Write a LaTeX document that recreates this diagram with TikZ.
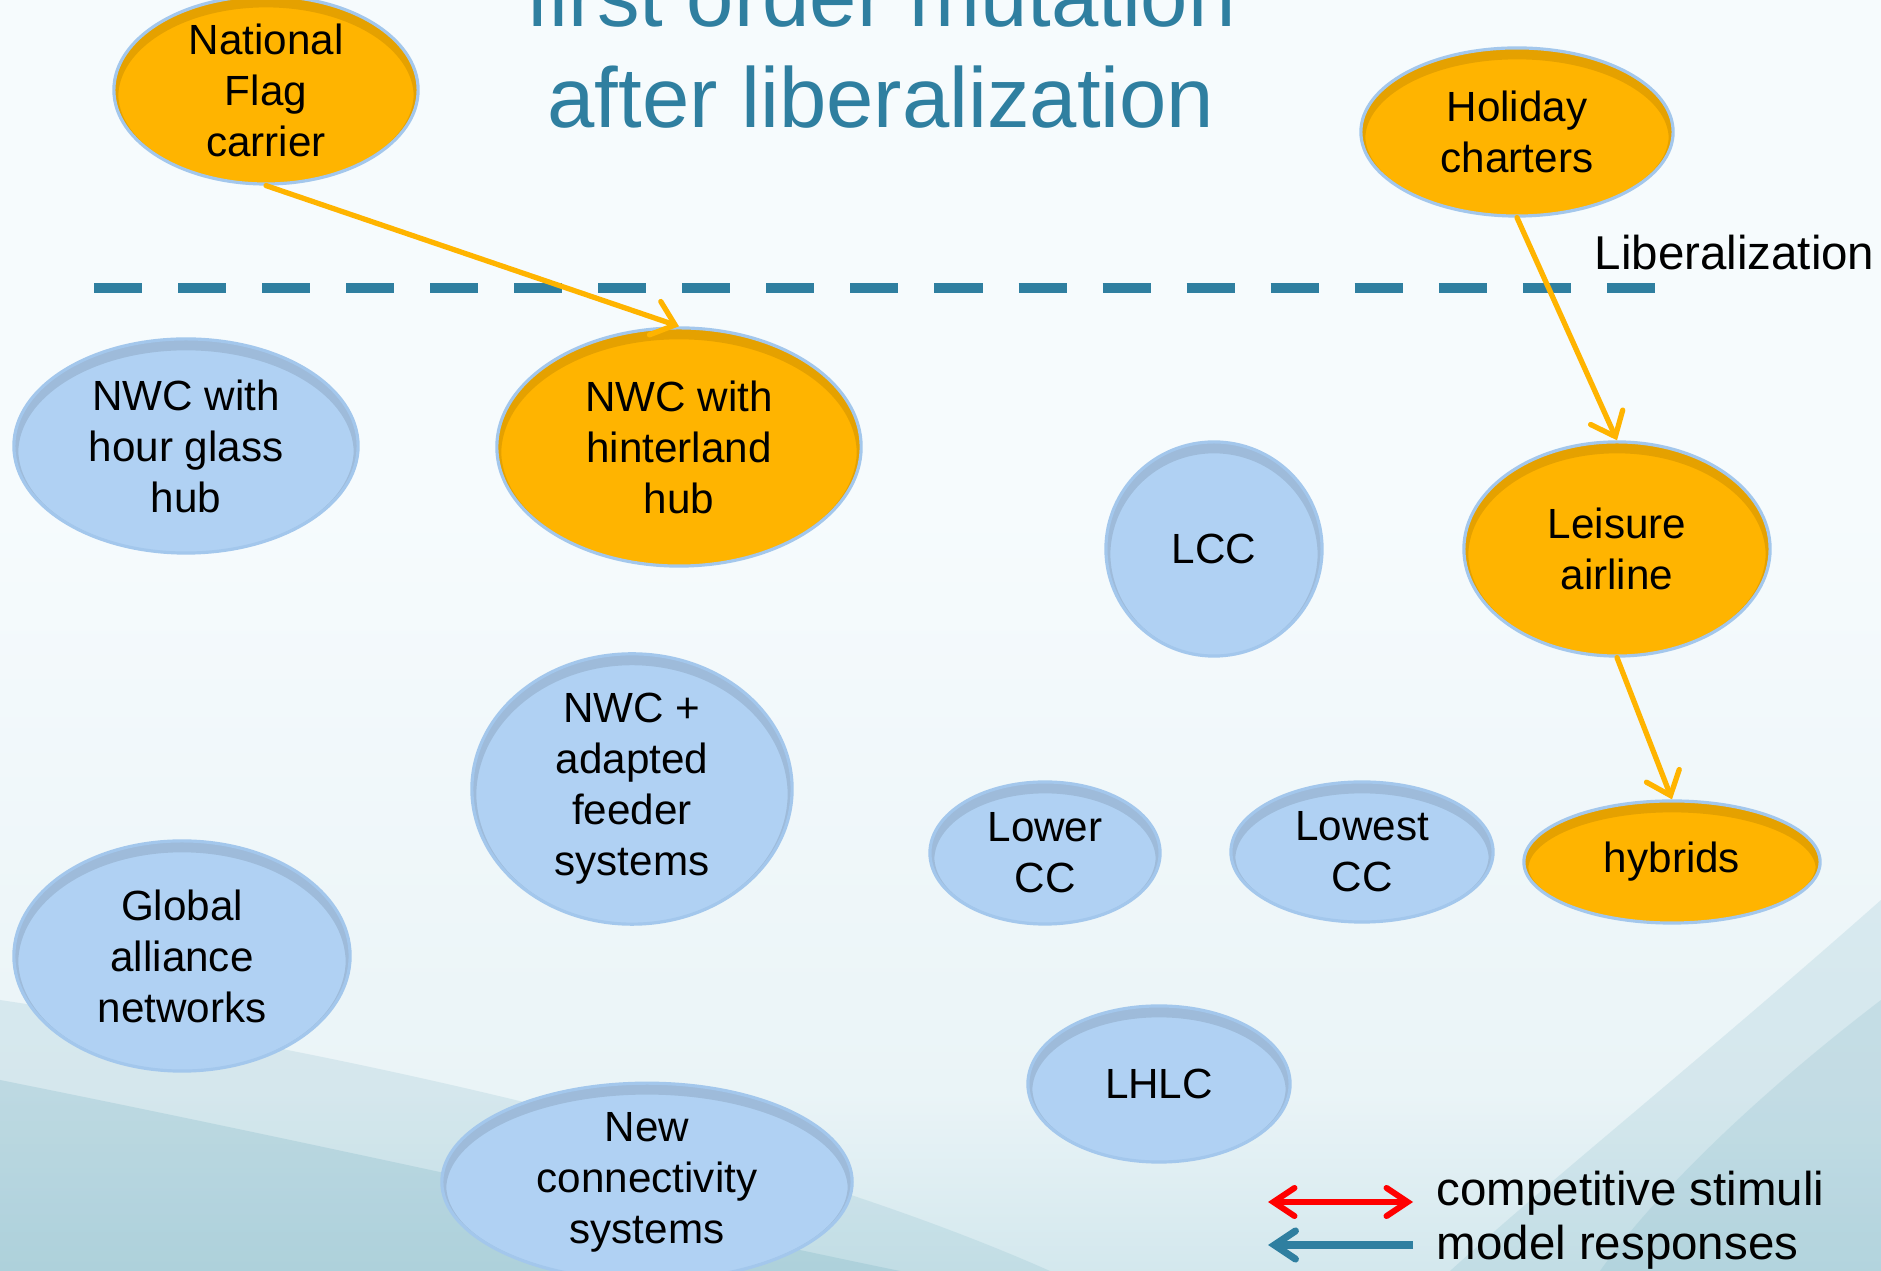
\documentclass[tikz,border=0pt]{standalone}
\usepackage{fontspec}
\setmainfont{Liberation Sans}
\usepackage{tikz}
\usetikzlibrary{shapes,arrows.meta,positioning,calc}

\definecolor{ModelBlue}{HTML}{B0D1F3}
\definecolor{MutantOrange}{HTML}{FFB400}
\definecolor{Rim}{HTML}{A3C7EC}
\definecolor{TitleBlue}{HTML}{2F7FA0}
\definecolor{bgTop}{HTML}{F6FBFD}
\definecolor{bgMid}{HTML}{EAF4F7}
\definecolor{bgLow}{HTML}{B6D8E1}
\definecolor{bgBase}{HTML}{8CC1CF}
\definecolor{bgDark}{HTML}{5FA2B7}
\pgfdeclareverticalshading{SlideBg}{100bp}{color(0bp)=(bgBase); color(16bp)=(bgLow); color(32bp)=(bgMid); color(55bp)=(bgTop); color(100bp)=(bgTop)}

\begin{document}
\begin{tikzpicture}[x=0.01cm, y=-0.01cm]
		\tikzstyle{Model}	= [ellipse, draw=Rim, line width=0.9pt, fill=ModelBlue, inner sep=0pt, align=center,
		                   font=\fontsize{12}{14.5}\selectfont,
		                   path picture={\path let \p1 = (path picture bounding box.south west), \p2 = (path picture bounding box.north east) in
		                     [draw=black, draw opacity=0.07, line width=6pt] ([yshift=-2pt]path picture bounding box.center)
		                     ellipse [x radius={0.5*(\x2-\x1)}, y radius={0.5*(\y2-\y1)}]
		                     [draw=black, draw opacity=0.1, line width=2.5pt] ([yshift=-1pt]path picture bounding box.center)
		                     ellipse [x radius={0.5*(\x2-\x1)}, y radius={0.5*(\y2-\y1)}];}]
		\tikzstyle{Mutant}	= [fill=MutantOrange]
		\tikzstyle{Title}	= [TitleBlue, inner sep=0pt, anchor=base, font=\fontsize{24.2}{29}\selectfont]
		\tikzstyle{Label}	= [inner sep=0pt, anchor=base west, font=\fontsize{13.5}{16}\selectfont]
		\tikzstyle{Border}	= [TitleBlue, line width=3.1pt, dash pattern=on 13.66pt off 10.24pt]
		\tikzstyle{Mutation}	= [-{Straight Barb[length=6pt, width=10pt, line cap=round]}, MutantOrange, line width=1.5pt, line cap=round]
		\tikzstyle{Stimulus}	= [{Straight Barb[length=6pt, width=8pt, line cap=round]}-{Straight Barb[length=6pt, width=8pt, line cap=round]}, red, line width=1.7pt]
		\tikzstyle{Response}	= [-{Straight Barb[length=6pt, width=8pt, line cap=round]}, TitleBlue, line width=2pt]
		\tikzset{Radii/.style 2 args={minimum width={#1*0.02cm}, minimum height={#2*0.02cm}}}

		\shade [shading=SlideBg] (0,0) rectangle (1881,1271);
		\fill [bgDark, opacity=0.15] (0,1000) .. controls (400,1060) and (800,1160) .. (1050,1271) -- (0,1271) -- cycle;
		\fill [bgDark, opacity=0.2] (0,1080) .. controls (350,1150) and (700,1230) .. (900,1271) -- (0,1271) -- cycle;
		\fill [bgDark, opacity=0.15] (1881,900) .. controls (1700,1060) and (1550,1180) .. (1450,1271) -- (1881,1271) -- cycle;
		\fill [bgDark, opacity=0.15] (1881,1000) .. controls (1750,1100) and (1650,1200) .. (1600,1271) -- (1881,1271) -- cycle;
		\useasboundingbox (0,0) rectangle (1881,1271);
		\clip (0,0) rectangle (1881,1271);

		\node (t1) at (881, 27) [Title] {first order mutation};
		\node (t2) at (881, 128) [Title] {after liberalization};
		\draw (94,288) -- (1656,288) [Border];
		\node (lib) at (1594, 270) [Label] {Liberalization};

		\node (nfc) at (266, 90) [Model][Mutant, Radii={152}{84}] {National\\Flag\\carrier};
		\node (hol) at (1517, 132) [Model][Mutant, Radii={156}{84}] {Holiday\\charters};
		\node (hour) at (186, 446) [Model][Radii={172}{107}] {NWC with\\hour glass\\hub};
		\node (hinter) at (679, 447) [Model][Mutant, Radii={182}{119}] {NWC with\\hinterland\\hub};
		\node (lcc) at (1214, 549) [Model][Radii={108}{107}] {LCC};
		\node (leis) at (1617, 549) [Model][Mutant, Radii={153}{107}] {Leisure\\airline};
		\node (feeder) at (632, 789) [Model][Radii={160}{123}] {NWC +\\adapted\\feeder\\systems};
		\node (lower) at (1045, 853) [Model][Radii={115}{71}] {Lower\\CC};
		\node (lowest) at (1362, 852) [Model][Radii={131}{70}] {Lowest\\CC};
		\node (hyb) at (1672, 862) [Model][Mutant, Radii={148}{61}] {hybrids};
		\node (glob) at (182, 956) [Model][Radii={168}{115}] {Global\\alliance\\networks};
		\node (lhlc) at (1159, 1084) [Model][Radii={131}{78}] {LHLC};
		\node (newc) at (647, 1182) [Model][Radii={205}{97}] {New\\connectivity\\systems};

		\draw (nfc.south) to (hinter.north) [Mutation];
		\draw (hol.south) to (leis.north) [Mutation];
		\draw (leis.south) to (hyb.north) [Mutation];

		\coordinate (s1) at (1268, 1202);
		\coordinate (s2) at (1413, 1202);
		\coordinate (m1) at (1268, 1245);
		\coordinate (m2) at (1413, 1245);
		\draw (s1) to (s2) [Stimulus];
		\draw (m2) to (m1) [Response];
		\node (stim) at (1436, 1206) [Label] {competitive stimuli};
		\node (resp) at (1436, 1260) [Label] {model responses};
	\end{tikzpicture}
\end{document}
